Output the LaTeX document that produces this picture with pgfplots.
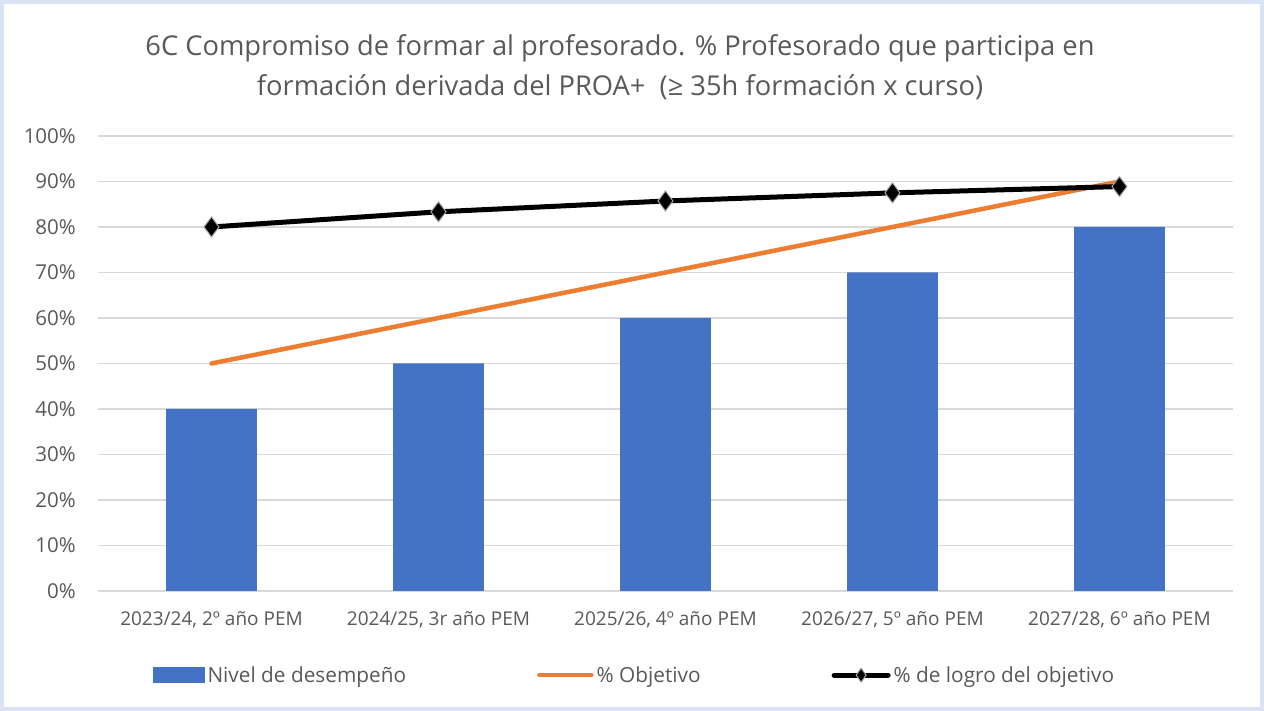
\documentclass[border=0pt]{standalone}
\usepackage{pgfplots}
\pgfplotsset{compat=1.18}
\usepackage{fontspec}
\setmainfont{Open Sans}
\definecolor{bluebar}{HTML}{4472C4}
\definecolor{orangel}{HTML}{ED7D31}
\definecolor{gridc}{HTML}{D9D9D9}
\definecolor{txt}{HTML}{595959}
\definecolor{frame}{HTML}{DAE3F3}
\begin{document}
\begin{tikzpicture}[x=1pt,y=1pt]
\useasboundingbox (0,0) rectangle (1264,711);
\fill[white] (0,0) rectangle (1264,711);
\draw[frame, line width=4pt] (2,2) rectangle (1262,709);
\node[text=txt, align=center, font=\fontsize{27.3}{40}\selectfont, anchor=center] at (620,644) {6C Compromiso de formar al profesorado. \% Profesorado que participa en\\formación derivada del PROA+\ \ (≥ 35h formación x curso)};
\begin{axis}[
  at={(98pt,120pt)}, anchor=south west,
  width=1135pt, height=455pt, scale only axis,
  xmin=-0.5, xmax=4.5, ymin=0, ymax=100,
  ytick={0,10,...,100},
  yticklabel={\pgfmathprintnumber{\tick}\%},
  xtick={0,1,2,3,4},
  xticklabels={{2023/24, 2º año PEM},{2024/25, 3r año PEM},{2025/26, 4º año PEM},{2026/27, 5º año PEM},{2027/28, 6º año PEM}},
  axis x line*=bottom, axis y line*=left,
  y axis line style={draw=none},
  x axis line style={draw=gridc, line width=1.3pt},
  major tick length=0pt,
  ymajorgrids, major grid style={gridc, line width=1.3pt},
  /pgf/number format/assume math mode=true,
  yticklabel style={font=\fontsize{20.5}{24}\selectfont, text=txt, anchor=east, inner sep=0pt, xshift=-22pt},
  xticklabel style={font=\fontsize{19}{22}\selectfont, text=txt, anchor=north, inner sep=0pt, yshift=-20pt},
  legend style={at={(0.473,-0.185)}, anchor=center, draw=none, fill=none,
    legend columns=3, font=\fontsize{20.8}{24}\selectfont, text=txt,
    /tikz/every even column/.append style={column sep=128pt},
    nodes={inner sep=3pt}},
  legend cell align=left,
]
\addplot[ybar, bar width=0.4, fill=bluebar, draw=none,
  legend image code/.code={\fill[bluebar] (0pt,-8pt) rectangle (52pt,8pt);}]
  coordinates {(0,40) (1,50) (2,60) (3,70) (4,80)};
\addlegendentry{Nivel de desempeño}
\addplot[orangel, line width=4.5pt, line cap=round, no marks,
  legend image code/.code={\draw[orangel, line width=4.5pt, line cap=round] (0pt,0pt) -- (52pt,0pt);}]
  coordinates {(0,50) (1,60) (2,70) (3,80) (4,90)};
\addlegendentry{\% Objetivo}
\addplot[black, line width=5pt, line cap=round, mark=diamond*, mark size=10pt,
  mark options={fill=black, draw=gray!70, line width=1pt},
  legend image code/.code={\draw[black, line width=5pt, line cap=round] (0pt,0pt) -- (54pt,0pt);
     \draw[fill=black, draw=gray!70, line width=1pt] (27pt,7pt) -- (32pt,0pt) -- (27pt,-7pt) -- (22pt,0pt) -- cycle;}]
  coordinates {(0,80) (1,83.333) (2,85.714) (3,87.5) (4,88.889)};
\addlegendentry{\% de logro del objetivo}
\end{axis}
\end{tikzpicture}
\end{document}
